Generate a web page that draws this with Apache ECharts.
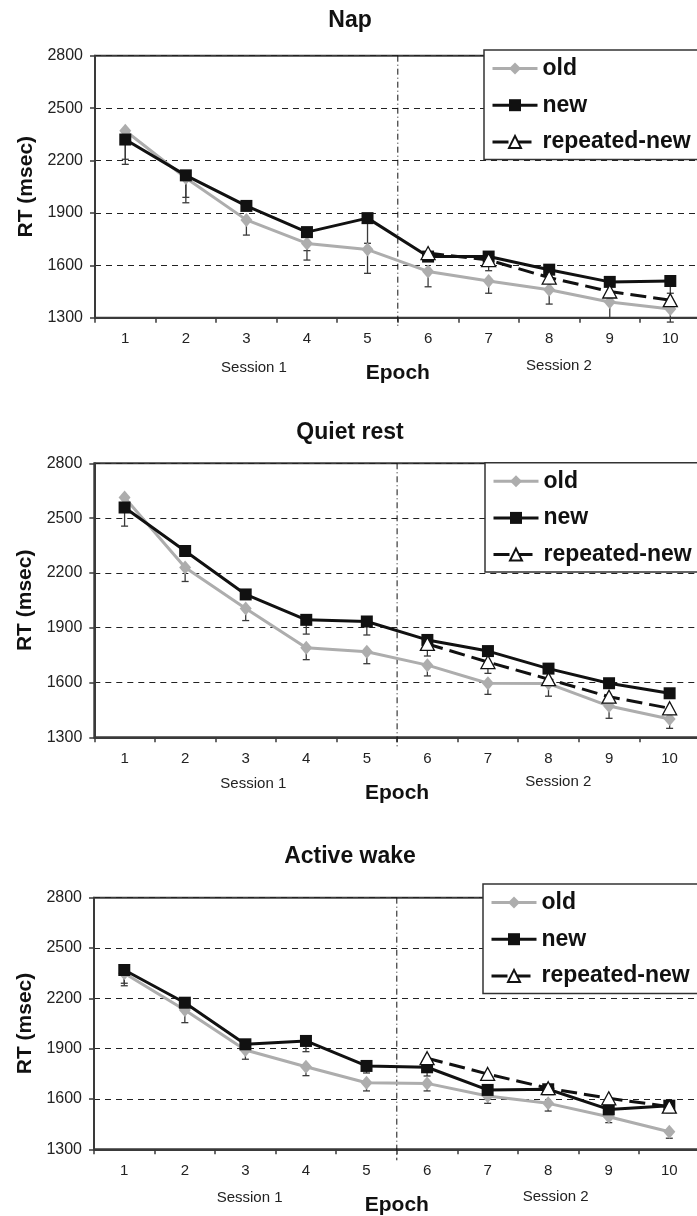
<!DOCTYPE html>
<html><head><meta charset="utf-8">
<script src="https://cdn.jsdelivr.net/npm/echarts@6/dist/echarts.min.js"></script>
<style>html,body{margin:0;padding:0;background:#fff}#c{width:697px;height:1216px}</style>
</head><body><div id="c"></div>
<script>
// ---- data ----
const categories = ['1','2','3','4','5','6','7','8','9','10'];
const yMin = 1300, yMax = 2800, yStep = 300;
const panelTitles = ['Nap', 'Quiet rest', 'Active wake'];
const sessionLabels = ['Session 1', 'Session 2'];
const seriesNames = ['old', 'new', 'repeated-new'];

const napOld     = [2370, 2100, 1860, 1725, 1690, 1565, 1510, 1460, 1390, 1350];
const napOldLow  = [2207, 1958, 1773, 1630, 1554, 1477, 1440, 1378, 1300, 1275];
const napNew     = [2320, 2115, 1940, 1790, 1870, 1650, 1650, 1575, 1505, 1510];
const napNewLow  = [2178, 1989, null, 1684, 1726, null, 1569, null, null, 1440];
const napRep     = [null, null, null, null, null, 1670, 1630, 1530, 1450, 1400];
const napRepLow  = [null, null, null, null, null, null, null, null, null, null];

const quietOld    = [2613, 2230, 2005, 1790, 1768, 1695, 1596, 1594, 1471, 1400];
const quietOldLow = [null, 2153, 1939, 1725, 1703, 1636, 1535, 1525, 1404, 1349];
const quietNew    = [2558, 2320, 2082, 1943, 1934, 1833, 1772, 1676, 1596, 1541];
const quietNewLow = [2456, null, null, 1865, 1860, null, null, null, null, null];
const quietRep    = [null, null, null, null, null, 1811, 1712, 1618, 1522, 1459];
const quietRepLow = [null, null, null, null, null, 1745, 1650, null, null, null];

const activeOld    = [2350, 2130, 1892, 1792, 1697, 1693, 1618, 1574, 1494, 1405];
const activeOldLow = [2275, 2055, 1837, 1739, 1648, 1648, 1574, 1528, 1459, 1366];
const activeNew    = [2369, 2174, 1926, 1946, 1797, 1789, 1654, 1658, 1538, 1560];
const activeNewLow = [2290, null, null, 1882, 1755, 1737, null, null, null, 1518];
const activeRep    = [null, null, null, null, null, 1843, 1749, 1664, 1604, 1554];
const activeRepLow = [null, null, null, null, null, null, 1717, null, null, null];

const panels = [
  {old: napOld, oldLow: napOldLow, nw: napNew, nwLow: napNewLow, rep: napRep, repLow: napRepLow},
  {old: quietOld, oldLow: quietOldLow, nw: quietNew, nwLow: quietNewLow, rep: quietRep, repLow: quietRepLow},
  {old: activeOld, oldLow: activeOldLow, nw: activeNew, nwLow: activeNewLow, rep: activeRep, repLow: activeRepLow}
];

// ---- layout ----
const FF = '"Liberation Sans", Arial, Helvetica, sans-serif';
const REP_DASH = [16, 7];
const grids = [
  {left: 95,   top: 55.7,  width: 605.6, height: 262},
  {left: 94.3, top: 463.3, width: 605.6, height: 274},
  {left: 94,   top: 897.7, width: 605.6, height: 251.6}
];
const legendPos = [{left: 484, top: 50}, {left: 485, top: 462.7}, {left: 483, top: 884}];
const titlePos = [[350, 21], [350, 433], [350, 857]];
const sessionPos = [
  [[254, 367.7], [559, 366]],
  [[253.3, 784], [558.3, 782.3]],
  [[249.6, 1198.3], [555.7, 1196.7]]
];

function errRender(params, api) {
  const x = api.value(0);
  const top = api.coord([x, api.value(1)]);
  const bot = api.coord([x, api.value(2)]);
  const hw = 3.5;
  const st = {stroke: '#3a3a3a', lineWidth: 1.3};
  return {type: 'group', children: [
    {type: 'line', shape: {x1: top[0], y1: top[1], x2: bot[0], y2: bot[1]}, style: st},
    {type: 'line', shape: {x1: bot[0] - hw, y1: bot[1], x2: bot[0] + hw, y2: bot[1]}, style: st}
  ]};
}
function sepRender(params, api) {
  const a = api.coord([4, yMax]);
  const b = api.coord([5, yMin]);
  const x = (a[0] + b[0]) / 2;
  return {type: 'line', shape: {x1: x, y1: a[1], x2: x, y2: b[1] + 11},
    style: {stroke: '#111', lineWidth: 1, lineDash: [6, 3, 1, 3]}};
}
function errData(mean, low) {
  const out = [];
  categories.forEach((c, i) => { if (low[i] != null && mean[i] != null) out.push([c, mean[i], low[i]]); });
  return out;
}

const option = {
  animation: false,
  backgroundColor: '#fff',
  grid: grids.map(g => Object.assign({show: true, borderColor: '#3a3a3a', borderWidth: 2,
    containLabel: false, outerBoundsMode: 'none', backgroundColor: 'transparent'}, g)),
  xAxis: grids.map((g, i) => ({
    type: 'category', gridIndex: i, data: categories, boundaryGap: true,
    axisLine: {show: true, lineStyle: {color: '#3a3a3a', width: 2}},
    axisTick: {show: true, length: 5, alignWithLabel: false, lineStyle: {color: '#3a3a3a', width: 1.5}},
    axisLabel: {fontSize: 15, color: '#222', margin: 14, fontFamily: FF},
    splitLine: {show: false},
    name: 'Epoch', nameLocation: 'middle', nameGap: 45,
    nameTextStyle: {fontSize: 21, fontWeight: 'bold', color: '#111', fontFamily: FF}
  })),
  yAxis: grids.map((g, i) => ({
    type: 'value', gridIndex: i, min: yMin, max: yMax, interval: yStep,
    axisLine: {show: true, lineStyle: {color: '#3a3a3a', width: 2}},
    axisTick: {show: true, length: 5, inside: false, lineStyle: {color: '#3a3a3a', width: 1.5}},
    axisLabel: {fontSize: 16, color: '#222', margin: 12, fontFamily: FF, formatter: v => String(v)},
    splitLine: {show: true, lineStyle: {type: [6, 5], color: '#222', width: 1}},
    name: 'RT (msec)', nameLocation: 'middle', nameGap: 58, nameRotate: 90,
    nameTextStyle: {fontSize: 21, fontWeight: 'bold', color: '#111', fontFamily: FF}
  })),
  legend: legendPos.map(p => ({
    orient: 'vertical', left: p.left, top: p.top, itemWidth: 45, itemHeight: 15, itemGap: 13.7,
    padding: [7, 40, 6, 7], backgroundColor: '#fff', borderColor: '#333', borderWidth: 1.5, borderRadius: 0,
    textStyle: {fontSize: 23, fontWeight: 'bold', color: '#111', fontFamily: FF},
    lineStyle: {width: 3},
    data: [
      {name: seriesNames[0]},
      {name: seriesNames[1]},
      {name: seriesNames[2], lineStyle: {width: 3, type: REP_DASH, color: '#111'}}
    ],
    selectedMode: false, z: 10
  })),
  graphic: [].concat(
    panelTitles.map((t, i) => ({type: 'text', x: titlePos[i][0], y: titlePos[i][1], silent: true,
      style: {text: t, fontSize: 23, fontWeight: 'bold', fontFamily: FF, fill: '#111', align: 'center', verticalAlign: 'middle'}})),
    ...sessionPos.map(sp => sp.map((p, j) => ({type: 'text', x: p[0], y: p[1], silent: true,
      style: {text: sessionLabels[j], fontSize: 15, fontFamily: FF, fill: '#222', align: 'center', verticalAlign: 'middle'}})))
  ),
  series: []
};

panels.forEach((p, i) => {
  const ax = {xAxisIndex: i, yAxisIndex: i};
  option.series.push(Object.assign({type: 'custom', name: 'sep' + i, renderItem: sepRender, silent: true, z: 1,
    data: [[categories[4], yMin]], encode: {x: 0, y: 1}}, ax));
  [[p.old, p.oldLow], [p.nw, p.nwLow], [p.rep, p.repLow]].forEach((pair, k) => {
    option.series.push(Object.assign({type: 'custom', name: 'err' + i + k, renderItem: errRender, silent: true, z: 2,
      data: errData(pair[0], pair[1]), encode: {x: 0, y: [1, 2]}}, ax));
  });
  option.series.push(Object.assign({type: 'line', name: 'old', data: p.old, symbol: 'diamond', symbolSize: [12, 14],
    itemStyle: {color: '#adadad'}, lineStyle: {color: '#adadad', width: 3}, z: 3, silent: true}, ax));
  option.series.push(Object.assign({type: 'line', name: 'new', data: p.nw, symbol: 'rect', symbolSize: 12,
    itemStyle: {color: '#111'}, lineStyle: {color: '#111', width: 3}, z: 4, silent: true}, ax));
  option.series.push(Object.assign({type: 'line', name: 'repeated-new', data: p.rep, symbol: 'triangle', symbolSize: [14, 13],
    itemStyle: {color: '#fff', borderColor: '#111', borderWidth: 1.3}, lineStyle: {color: '#111', width: 3, type: REP_DASH},
    z: 5, silent: true}, ax));
});

const chart = echarts.init(document.getElementById('c'), null, {renderer: 'canvas'});
chart.setOption(option);
</script></body></html>
